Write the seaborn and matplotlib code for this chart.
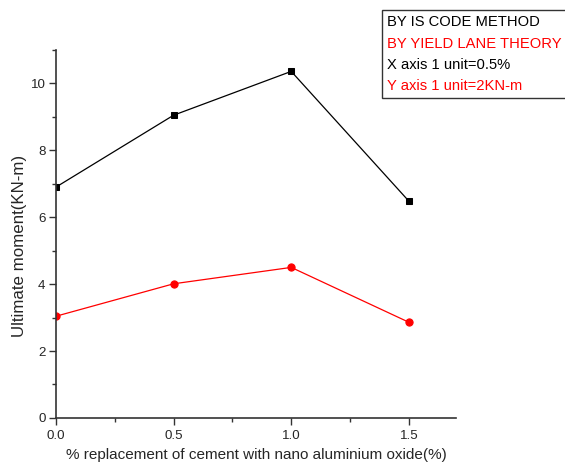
import matplotlib
matplotlib.use("Agg")
import matplotlib.pyplot as plt
import seaborn as sns
import pandas as pd
from matplotlib.lines import Line2D
from matplotlib.ticker import MultipleLocator

x_vals = [0.0, 0.5, 1.0, 1.5]
is_code = [6.9, 9.05, 10.36, 6.48]
yield_line = [3.04, 4.01, 4.5, 2.86]
legend_texts = ["BY IS CODE METHOD", "BY YIELD LANE THEORY",
                "X axis 1 unit=0.5%", "Y axis 1 unit=2KN-m"]
legend_colors = ["black", "red", "black", "red"]

sns.set_style("ticks")
plt.rcParams['font.family'] = ['Liberation Sans', 'DejaVu Sans']

fig = plt.figure(figsize=(5.65, 4.76), dpi=100)
ax = fig.add_axes([0.099, 0.122, 0.708, 0.773])

df1 = pd.DataFrame({"x": x_vals, "y": is_code})
df2 = pd.DataFrame({"x": x_vals, "y": yield_line})
sns.lineplot(data=df1, x="x", y="y", ax=ax, color="black", marker="s",
             markersize=4.6, linewidth=0.9, markeredgecolor="black")
sns.lineplot(data=df2, x="x", y="y", ax=ax, color="red", marker="o",
             markersize=5.2, linewidth=0.9, markeredgecolor="red")

ax.set_xlim(0, 1.7)
ax.set_ylim(0, 11)
ax.xaxis.set_major_locator(MultipleLocator(0.5))
ax.xaxis.set_minor_locator(MultipleLocator(0.25))
ax.yaxis.set_major_locator(MultipleLocator(2))
ax.yaxis.set_minor_locator(MultipleLocator(1))
ax.set_xticks([0, 0.5, 1.0, 1.5])
ax.set_xticklabels(["0.0", "0.5", "1.0", "1.5"])
ax.tick_params(which="major", length=5, width=1, labelsize=9.6, color="#333333")
ax.tick_params(axis="y", which="major", pad=2.5)
ax.tick_params(axis="x", which="major", pad=4)
ax.tick_params(which="minor", length=3, width=1, color="#333333")
for s in ["top", "right"]:
    ax.spines[s].set_visible(False)
for s in ["left", "bottom"]:
    ax.spines[s].set_linewidth(1.2)
    ax.spines[s].set_color("#333333")
ax.set_xlabel("% replacement of cement with nano aluminium oxide(%)", fontsize=11, labelpad=4)
ax.set_ylabel("Ultimate moment(KN-m)", fontsize=12.2)
ax.yaxis.set_label_coords(-0.072, 0.467)

handles = [Line2D([], [], linestyle="none") for _ in legend_texts]
leg = fig.legend(handles, legend_texts, loc="upper left",
                 bbox_to_anchor=(0.676, 0.979), handlelength=0, handletextpad=0,
                 labelcolor=legend_colors, fontsize=10.6, frameon=True,
                 fancybox=False, edgecolor="#333333", framealpha=1,
                 borderpad=0.35, labelspacing=0.5, borderaxespad=0)
leg.get_frame().set_linewidth(1.0)

fig.savefig("out.png", dpi=100)
